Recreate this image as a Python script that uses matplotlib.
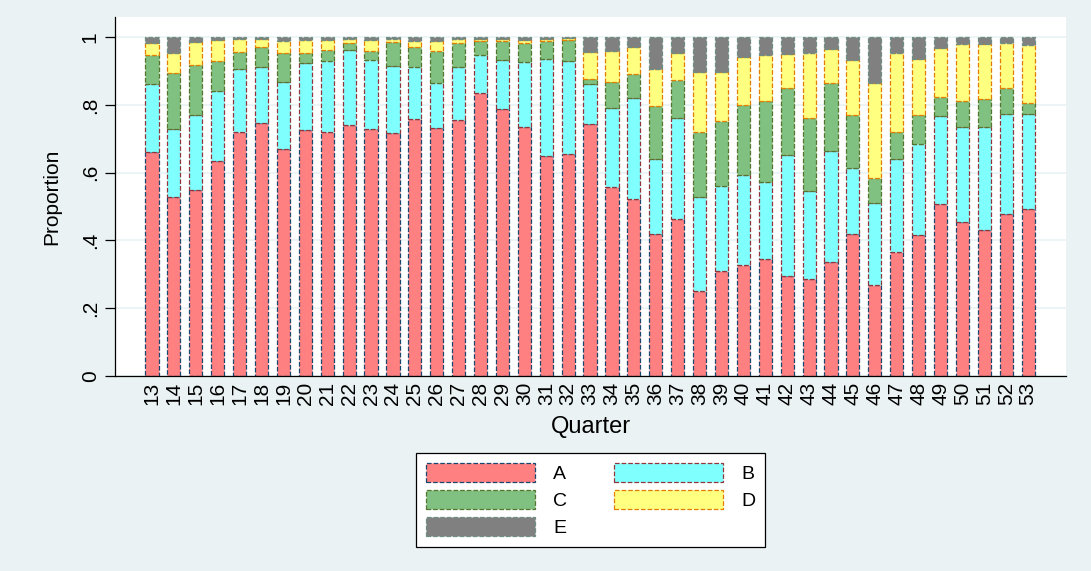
import numpy as np
import matplotlib.pyplot as plt

plt.rcParams['font.family'] = ['Liberation Sans', 'DejaVu Sans']

# quarters on the x axis
quarters = list(range(13, 54))

# share of each group per quarter
share_a = [0.662, 0.527, 0.549, 0.633, 0.721, 0.746, 0.669, 0.726, 0.719, 0.740,
           0.729, 0.716, 0.757, 0.733, 0.755, 0.835, 0.788, 0.734, 0.650, 0.654,
           0.742, 0.559, 0.521, 0.419, 0.462, 0.250, 0.310, 0.327, 0.344, 0.295,
           0.287, 0.336, 0.418, 0.268, 0.367, 0.417, 0.507, 0.454, 0.431, 0.479,
           0.494]
share_b = [0.198, 0.201, 0.221, 0.208, 0.184, 0.165, 0.197, 0.198, 0.210, 0.221,
           0.202, 0.198, 0.154, 0.130, 0.156, 0.111, 0.143, 0.191, 0.286, 0.274,
           0.120, 0.231, 0.299, 0.222, 0.300, 0.277, 0.250, 0.265, 0.227, 0.356,
           0.260, 0.329, 0.195, 0.241, 0.274, 0.266, 0.259, 0.282, 0.303, 0.294,
           0.278]
share_c = [0.087, 0.167, 0.147, 0.087, 0.051, 0.060, 0.088, 0.028, 0.034, 0.022,
           0.028, 0.070, 0.060, 0.096, 0.070, 0.042, 0.057, 0.056, 0.053, 0.062,
           0.013, 0.077, 0.070, 0.155, 0.111, 0.192, 0.193, 0.206, 0.240, 0.200,
           0.213, 0.198, 0.156, 0.075, 0.078, 0.088, 0.058, 0.076, 0.084, 0.076,
           0.034]
share_d = [0.036, 0.059, 0.069, 0.063, 0.037, 0.024, 0.033, 0.038, 0.027, 0.010,
           0.031, 0.009, 0.017, 0.028, 0.012, 0.007, 0.007, 0.009, 0.004, 0.007,
           0.082, 0.092, 0.080, 0.110, 0.079, 0.177, 0.143, 0.143, 0.137, 0.099,
           0.194, 0.103, 0.164, 0.281, 0.233, 0.163, 0.145, 0.167, 0.160, 0.132,
           0.170]
share_e = [0.017, 0.046, 0.014, 0.009, 0.007, 0.005, 0.013, 0.010, 0.010, 0.007,
           0.010, 0.007, 0.012, 0.013, 0.007, 0.005, 0.005, 0.010, 0.007, 0.003,
           0.043, 0.041, 0.030, 0.094, 0.048, 0.104, 0.104, 0.059, 0.052, 0.050,
           0.046, 0.034, 0.067, 0.135, 0.048, 0.066, 0.031, 0.021, 0.022, 0.019,
           0.024]

groups = ['A', 'B', 'C', 'D', 'E']
y_ticks = [0, 0.2, 0.4, 0.6, 0.8, 1]
y_ticklabels = ['0', '.2', '.4', '.6', '.8', '1']

# stata s2color look
fills = ['#ff8080', '#80ffff', '#80c080', '#ffff80', '#808080']
edges = ['#1a476f', '#90353b', '#55752f', '#e37e00', '#6e8e84']
bg = '#eaf2f3'

fig = plt.figure(figsize=(10.91, 5.71), dpi=100, facecolor=bg)
ax = fig.add_axes([0.1054, 0.3415, 0.8717, 0.6287])
ax.set_facecolor('white')

series = [share_a, share_b, share_c, share_d, share_e]
bottom = np.zeros(len(quarters))
bars = []
for vals, name, fc, ec in zip(series, groups, fills, edges):
    vals = np.array(vals)
    b = ax.bar(quarters, vals, width=0.6, bottom=bottom, color=fc, edgecolor=ec,
               linewidth=0.9, linestyle='--', label=name, zorder=2)
    bars.append(b)
    bottom += vals

ax.set_xlim(11.31, 54.73)
ax.set_ylim(0, 1.059)

ax.set_yticks(y_ticks)
ax.set_yticklabels(y_ticklabels)
ax.set_xticks(quarters)
ax.set_xticklabels([str(q) for q in quarters], rotation=90)
ax.tick_params(axis='y', labelrotation=90, length=7, width=0.9, pad=4, labelsize=15)
ax.tick_params(axis='x', length=0, pad=4, labelsize=15)
for lab in ax.get_yticklabels():
    lab.set_va('center')

ax.grid(axis='y', color=bg, linewidth=1.2, zorder=0)
ax.set_axisbelow(True)

for s in ['top', 'right']:
    ax.spines[s].set_visible(False)
ax.spines['left'].set_linewidth(0.9)
ax.spines['bottom'].set_linewidth(0.9)

ax.set_ylabel('Proportion', fontsize=15, labelpad=14)
ax.set_xlabel('Quarter', fontsize=17, labelpad=8)

# legend filled row by row: A B / C D / E
order = [0, 2, 4, 1, 3]
leg = fig.legend([bars[i] for i in order], [groups[i] for i in order],
                 loc='center', bbox_to_anchor=(0.5412, 0.1243), ncol=2,
                 fontsize=14, handlelength=5.6, handleheight=1.15,
                 handletextpad=0.95, columnspacing=2.4, labelspacing=0.35,
                 borderpad=0.5, fancybox=False, edgecolor='black',
                 framealpha=1)
leg.get_frame().set_linewidth(0.9)

fig.savefig('out.png', dpi=100, facecolor=bg)
